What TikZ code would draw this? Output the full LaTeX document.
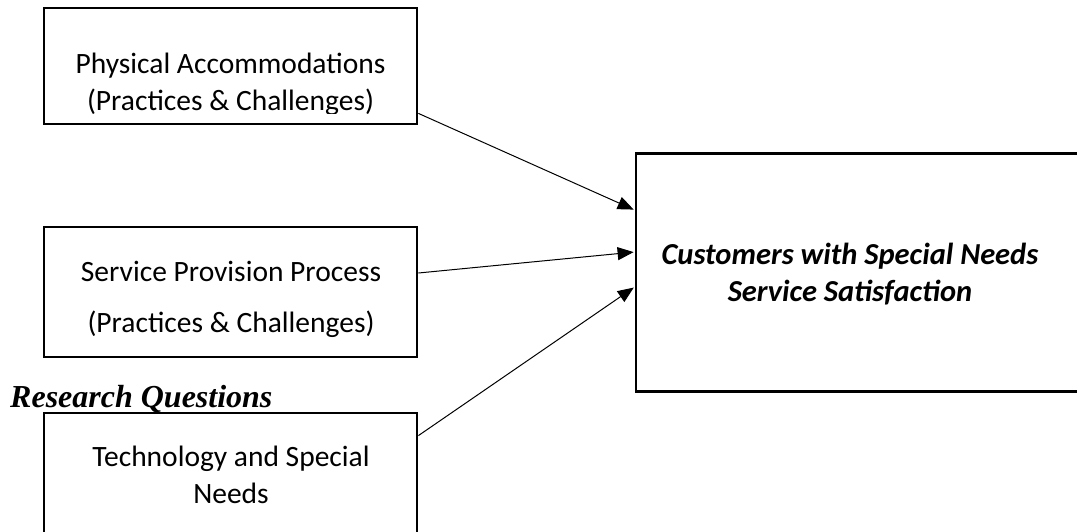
\documentclass[tikz,border=0pt]{standalone}
\usepackage{fontspec}
\setmainfont{Carlito}
\newfontfamily\headfont{Liberation Serif}
\usetikzlibrary{arrows.meta}
\usetikzlibrary{positioning}

\begin{document}
\begin{tikzpicture}[x=1pt,y=-1pt,
  box/.style={draw, line width=2.8pt, inner sep=0pt, minimum width=373pt},
  txt/.style={font=\fontsize{29.5}{37}\selectfont, align=center},
  conn/.style={line width=1pt, -{Triangle[length=16pt,width=13pt]}, shorten >=1pt}]
\useasboundingbox (0,0) rectangle (1077,531);

% the three factor boxes
\node[box, minimum height=116pt] (phys) at (230.5,66) {};
\node[box, minimum height=130pt] (serv) at (230.5,292) {};
\node[box, minimum height=147pt] (tech) at (230.5,486.5) {};
\node[box, minimum width=464pt, minimum height=238.5pt] (sat) at (868,272.5) {};

\begin{scope}
\clip (44,8) rectangle (417,113);
\node[txt] (physlbl) at (230.5,84.5) {Physical Accommodations\\(Practices \& Challenges)};
\end{scope}
\node[txt] (servlbl) at (231,299.5) {Service Provision Process\\[14pt](Practices \& Challenges)};
\node[txt] (techlbl) at (231,475) {Technology and Special\\Needs};
\node[txt, font=\fontsize{30.5}{37}\selectfont\bfseries\itshape] (satlbl) at (850,274.5)
  {Customers with Special Needs\\Service Satisfaction};
\node[anchor=base west, inner sep=0pt,
  font=\headfont\fontsize{32}{36}\selectfont\bfseries\itshape] (rq) at (10,407) {Research Questions};

% links to the outcome
\draw[conn] ([yshift=12pt]phys.south east) -- ([yshift=62.5pt]sat.west);
\draw[conn] ([yshift=19pt]serv.east) -- ([yshift=20.5pt]sat.west);
\draw[conn] ([yshift=-24pt]tech.north east) -- ([yshift=-14.5pt]sat.west);
\end{tikzpicture}
\end{document}
